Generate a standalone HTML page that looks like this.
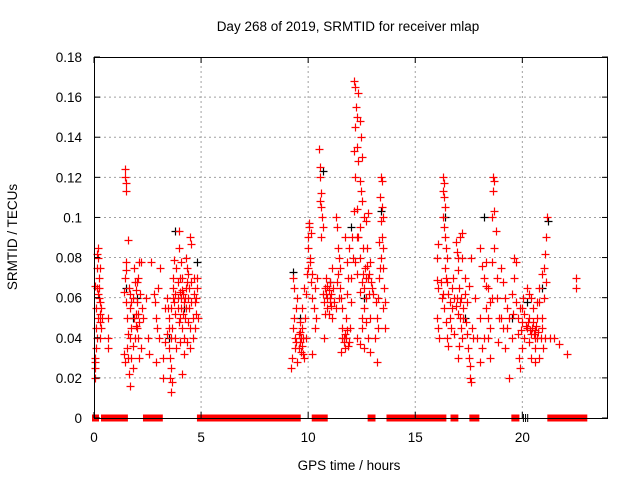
<!DOCTYPE html>
<html><head><meta charset="utf-8"><style>
html,body{margin:0;padding:0;background:#fff}
svg{display:block;font-family:"Liberation Sans",sans-serif}
</style></head><body>
<svg id="chart" width="640" height="480" viewBox="0 0 640 480" xmlns="http://www.w3.org/2000/svg">
<text x="348" y="31" font-size="13.5" text-anchor="middle">Day 268 of 2019, SRMTID for receiver mlap</text>
<text transform="translate(17,237) rotate(-90)" font-size="13.5" text-anchor="middle">SRMTID / TECUs</text>
<text x="349" y="470" font-size="13.5" text-anchor="middle">GPS time / hours</text>
<g id="grid"></g>
<g id="zeros"></g>
<g id="black"></g>
<g id="red"></g>
<g id="axes"></g>
</svg>
<script>
const xTicks=[0,5,10,15,20];
const yTicks=[0,0.02,0.04,0.06,0.08,0.1,0.12,0.14,0.16,0.18];
const yTickLabels=["0","0.02","0.04","0.06","0.08","0.1","0.12","0.14","0.16","0.18"];
const zeroRanges=[[0,0.14],[0.42,1.49],[2.38,2.7],[2.84,3.12],[4.9,9.14],[9.28,9.56],[10.26,10.54],[10.68,10.82],[12.87,13.05],[13.75,15.99],[16.08,16.36],[16.74,16.92],[17.62,17.72],[17.84,17.9],[19.58,19.77],[21.26,22.94]];
const blackZeros=[20.05,20.15,20.25];
const blackPts=[[1.5,0.065],[1.8,0.05],[3.8,0.093],[4.8,0.078],[9.3,0.073],[10.7,0.123],[12.0,0.095],[16.4,0.1],[18.2,0.1],[21.2,0.098],[20.2,0.058],[4.2,0.055],[11.0,0.068],[13.4,0.103],[20.9,0.065],[2.0,0.06],[3.5,0.04],[9.6,0.05],[12.6,0.06],[17.3,0.05],[19.5,0.05]];
const redPts=[
[0.05,0.025],[0.05,0.03],[0.08,0.045],[0.1,0.055],[0.12,0.065],[0.15,0.075],[0.18,0.08],[0.2,0.085],[0.22,0.07],[0.25,0.06],[0.28,0.052],[0.3,0.048],[0.1,0.035],[0.15,0.04],[0.2,0.05],[0.22,0.065],[0.26,0.058],[0.3,0.075],[0.32,0.055],[0.35,0.045],[0.38,0.05],[0.06,0.066],[0.12,0.082],[0.18,0.062],[0.28,0.04],[0.05,0.02],[0.03,0.028],[0.65,0.05],[0.65,0.04],[0.65,0.035],
[1.45,0.124],[1.45,0.12],[1.5,0.117],[1.5,0.113],
[1.4,0.063],[1.45,0.07],[1.5,0.074],[1.5,0.058],[1.55,0.05],[1.55,0.035],[1.6,0.03],[1.6,0.042],[1.65,0.022],[1.7,0.016],[1.6,0.089],[1.65,0.065],[1.7,0.055],[1.75,0.045],[1.8,0.06],[1.85,0.075],[1.9,0.068],[1.95,0.052],[2.0,0.058],[2.05,0.07],[2.1,0.078],[2.05,0.04],[2.1,0.048],[2.15,0.062],[2.2,0.078],[2.2,0.035],[2.25,0.055],[1.75,0.03],[1.8,0.025],[1.9,0.04],[2.0,0.045],[2.1,0.03],[1.4,0.032],[1.45,0.028],[1.5,0.078],[2.3,0.05],[1.95,0.064],[2.0,0.068],
[1.7,0.062],[1.75,0.058],[1.85,0.05],[1.95,0.046],[2.05,0.052],[1.8,0.036],[1.7,0.04],
[2.5,0.04],[2.45,0.06],[2.55,0.032],[2.65,0.078],
[2.8,0.062],[2.85,0.058],[2.9,0.05],[2.95,0.045],[3.0,0.065],[3.05,0.04],[2.9,0.028],[3.2,0.02],[3.2,0.03],[3.3,0.038],[3.1,0.075],
[3.4,0.06],[3.45,0.055],[3.5,0.05],[3.5,0.035],[3.55,0.03],[3.55,0.02],[3.6,0.013],[3.6,0.025],[3.65,0.045],[3.7,0.065],[3.7,0.07],[3.75,0.058],[3.8,0.052],[3.8,0.04],[3.85,0.075],[3.9,0.068],[3.9,0.06],[3.95,0.085],[4.0,0.063],[4.0,0.05],[4.05,0.055],[4.1,0.045],[4.1,0.07],[4.15,0.062],[4.2,0.058],[4.2,0.04],[4.25,0.05],[4.3,0.065],[4.3,0.08],[4.35,0.075],[4.4,0.06],[4.4,0.048],[4.45,0.055],[4.5,0.045],[4.5,0.035],[4.55,0.068],[4.6,0.05],[4.6,0.04],[4.65,0.07],[4.7,0.058],[4.7,0.045],[4.75,0.052],[4.8,0.065],[4.8,0.07],[4.85,0.05],[4.5,0.09],[4.55,0.087],[3.75,0.079],[3.95,0.093],[4.05,0.078],[3.5,0.045],[3.6,0.055],[3.4,0.042],[3.3,0.055],[4.2,0.032],[4.35,0.038],[4.0,0.038],[3.85,0.035],[4.1,0.022],[3.65,0.018],
[3.7,0.06],[3.8,0.062],[3.9,0.055],[4.0,0.07],[4.1,0.064],[4.15,0.052],[4.25,0.06],[4.35,0.068],[4.45,0.065],[4.55,0.058],[4.65,0.062],[4.75,0.06],[3.95,0.048],[4.3,0.055],[3.6,0.04],[4.05,0.06],[4.4,0.072],
[9.2,0.025],[9.25,0.03],[9.3,0.045],[9.35,0.05],[9.4,0.04],[9.4,0.035],[9.45,0.055],[9.35,0.065],[9.3,0.07],[9.5,0.028],[9.5,0.06],[9.55,0.042],[9.6,0.038],[9.6,0.048],[9.65,0.033],[9.7,0.045],[9.7,0.055],[9.75,0.04],[9.8,0.065],[9.8,0.03],[9.85,0.05],[9.9,0.062],[9.95,0.072],[9.9,0.04],
[9.45,0.038],[9.55,0.035],[9.65,0.04],[9.75,0.032],[9.7,0.036],[9.6,0.043],
[10.0,0.09],[10.05,0.095],[10.0,0.085],[10.1,0.08],[10.1,0.078],[10.15,0.068],[10.2,0.06],[10.2,0.072],[10.25,0.055],[10.3,0.065],[10.3,0.045],[10.35,0.05],[10.05,0.097],[10.15,0.092],[10.4,0.07],[10.2,0.032],[10.0,0.075],
[10.5,0.134],[10.55,0.125],[10.55,0.12],[10.6,0.112],[10.6,0.105],[10.65,0.1],[10.7,0.095],[10.55,0.108],[10.6,0.09],[10.7,0.062],[10.75,0.058],[10.8,0.065],[10.85,0.07],[10.9,0.06],[10.9,0.055],[10.95,0.052],[11.0,0.068],[11.05,0.062],[11.1,0.075],[11.1,0.05],[10.8,0.052],[10.75,0.04],[11.15,0.065],[11.2,0.058],
[10.85,0.062],[10.95,0.064],[11.0,0.058],[11.05,0.056],[10.9,0.066],[11.0,0.06],
[11.3,0.1],[11.35,0.095],[11.4,0.085],[11.45,0.08],[11.5,0.075],[11.5,0.065],[11.55,0.06],[11.6,0.055],[11.6,0.045],[11.65,0.04],[11.7,0.035],[11.75,0.05],[11.8,0.062],[11.8,0.078],[11.85,0.07],[11.9,0.038],[11.95,0.045],[12.0,0.058],[12.0,0.07],[11.4,0.072],[11.35,0.068],[11.7,0.09],[11.9,0.085],[12.05,0.09],[12.1,0.08],[11.55,0.033],[11.45,0.06],[11.3,0.055],
[11.65,0.038],[11.75,0.04],[11.85,0.036],[11.6,0.04],[11.7,0.042],[11.8,0.044],
[12.15,0.168],[12.2,0.165],[12.35,0.162],[12.25,0.155],[12.3,0.15],[12.4,0.148],[12.2,0.145],[12.45,0.14],[12.3,0.135],[12.15,0.133],[12.5,0.13],[12.35,0.128],[12.2,0.12],[12.4,0.118],[12.45,0.113],[12.5,0.108],[12.3,0.104],[12.15,0.103],[12.6,0.1],[12.4,0.095],[12.3,0.09],[12.55,0.085],[12.4,0.08],[12.2,0.078],[12.65,0.075],[12.3,0.072],[12.5,0.068],[12.4,0.063],[12.7,0.06],[12.6,0.055],[12.8,0.07],[12.85,0.062],[12.9,0.05],[12.7,0.048],[12.5,0.045],[12.3,0.04],[12.4,0.037],[12.6,0.035],[12.8,0.04],[12.9,0.033],[12.5,0.05],[12.75,0.085],[12.9,0.078],[13.0,0.065],[12.35,0.09],[12.7,0.098],[12.8,0.102],
[12.6,0.065],[12.7,0.07],[12.75,0.076],[12.85,0.072],[12.95,0.068],[12.55,0.072],
[13.2,0.028],[13.1,0.04],[13.2,0.05],[13.25,0.06],[13.3,0.07],[13.35,0.075],[13.4,0.08],[13.3,0.088],[13.45,0.09],[13.4,0.098],[13.5,0.1],[13.45,0.105],[13.4,0.12],[13.45,0.118],[13.35,0.11],[13.5,0.085],[13.55,0.065],[13.6,0.058],[13.6,0.045],[13.5,0.055],[13.25,0.045],[13.15,0.058],[13.05,0.062],[13.5,0.075],
[16.0,0.069],[16.05,0.065],[16.0,0.05],[16.05,0.045],[16.1,0.04],[16.0,0.08],[16.05,0.087],[16.3,0.12],[16.35,0.117],[16.3,0.113],[16.35,0.11],[16.4,0.105],[16.3,0.1],[16.35,0.095],[16.4,0.09],[16.45,0.085],[16.5,0.08],[16.4,0.075],[16.45,0.07],[16.5,0.068],[16.55,0.062],[16.6,0.058],[16.6,0.05],[16.65,0.045],[16.7,0.055],[16.7,0.065],[16.75,0.07],[16.8,0.06],[16.8,0.042],[16.3,0.062],[16.35,0.055],[16.45,0.048],[16.5,0.04],[16.55,0.036],[16.25,0.06],[16.2,0.068],
[16.9,0.088],[16.95,0.083],[17.0,0.08],[17.0,0.074],[17.05,0.065],[17.1,0.058],[17.1,0.05],[17.15,0.045],[17.2,0.04],[17.25,0.055],[17.3,0.062],[17.3,0.07],[17.35,0.048],[17.4,0.042],[17.45,0.035],[17.5,0.03],[17.55,0.026],[17.55,0.02],[17.6,0.018],[17.4,0.058],[17.5,0.066],[17.6,0.08],[17.65,0.045],[17.7,0.04],[17.2,0.092],[17.1,0.09],[17.8,0.06],[17.0,0.03],[17.05,0.036],[17.2,0.08],
[16.9,0.056],[17.0,0.052],[17.15,0.06],[17.25,0.05],[16.95,0.06],
[18.0,0.085],[18.1,0.076],[18.2,0.07],[18.3,0.066],[18.3,0.055],[18.4,0.05],[18.4,0.04],[18.5,0.045],[18.6,0.06],[18.65,0.12],[18.7,0.118],[18.65,0.113],[18.7,0.103],[18.6,0.1],[18.75,0.093],[18.7,0.085],[18.8,0.07],[18.6,0.078],[18.8,0.06],[18.9,0.05],[18.4,0.065],[18.5,0.058],[18.2,0.04],[18.1,0.035],[17.9,0.04],[18.0,0.05],[18.3,0.078],[18.85,0.038],[18.5,0.03],[18.0,0.028],
[19.0,0.075],[19.1,0.068],[19.2,0.06],[19.3,0.055],[19.3,0.045],[19.4,0.05],[19.5,0.062],[19.5,0.04],[19.6,0.08],[19.6,0.07],[19.7,0.058],[19.8,0.05],[19.8,0.042],[19.9,0.055],[20.0,0.048],[20.0,0.035],[20.1,0.04],[20.1,0.052],[20.2,0.065],[20.2,0.045],[20.3,0.05],[20.3,0.038],[20.4,0.06],[20.4,0.042],[20.5,0.048],[20.5,0.055],[20.6,0.044],[20.6,0.035],[20.7,0.05],[20.7,0.04],[20.8,0.065],[20.8,0.058],[20.9,0.045],[20.9,0.072],[21.0,0.06],[21.0,0.075],[21.05,0.082],[21.1,0.09],[21.1,0.068],[21.15,0.1],[20.0,0.055],[19.9,0.025],[19.85,0.03],[19.4,0.02],[19.2,0.035],[19.1,0.045],[20.4,0.03],[20.6,0.028],[20.8,0.03],[19.7,0.078],[20.3,0.062],[20.05,0.06],[19.0,0.05],[19.55,0.052],[20.7,0.058],[20.9,0.05],[21.05,0.04],[20.95,0.035],
[20.6,0.04],[20.65,0.046],[20.75,0.043],[20.85,0.04],[20.55,0.042],[20.45,0.045],[20.35,0.044],[20.25,0.048],[20.15,0.046],[19.95,0.044],
[21.5,0.04],[21.7,0.037],[22.1,0.032],[22.5,0.07],[22.5,0.065],[21.3,0.04]
];
const X0=94,X1=608,Y0=418,Y1=57,XMAX=24,YMAX=0.18;
function sx(h){return X0+(X1-X0)*h/XMAX;}
function sy(v){return Y0-(Y0-Y1)*v/YMAX;}
const NS="http://www.w3.org/2000/svg";
function mk(tag,attrs,parent){const e=document.createElementNS(NS,tag);for(const k in attrs)e.setAttribute(k,attrs[k]);parent.appendChild(e);return e;}
const grid=document.getElementById('grid'),axes=document.getElementById('axes');
yTicks.forEach((t,i)=>{
  const y=sy(t);
  if(i>0&&i<yTicks.length-1){const l=mk('line',{x1:X0,x2:X1,y1:y,y2:y,stroke:'#a0a0a0','stroke-dasharray':'2,3','stroke-width':1},grid);
  
  }
  mk('line',{x1:X0,x2:X0+6,y1:y,y2:y,stroke:'#000'},axes);
  mk('line',{x1:X1-6,x2:X1,y1:y,y2:y,stroke:'#000'},axes);
  const tx=mk('text',{x:82,y:y+5,'font-size':13.5,'text-anchor':'end'},axes);
  tx.textContent=yTickLabels[i];
  
  
});
xTicks.forEach(t=>{
  const x=sx(t);
  if(t>0){const l=mk('line',{x1:x,x2:x,y1:Y0,y2:Y1,stroke:'#a0a0a0','stroke-dasharray':'2,3','stroke-width':1},grid);
  
  }
  mk('line',{x1:x,x2:x,y1:Y0,y2:Y0-6,stroke:'#000'},axes);
  mk('line',{x1:x,x2:x,y1:Y1,y2:Y1+6,stroke:'#000'},axes);
  const tx=mk('text',{x:x,y:442,'font-size':13.5,'text-anchor':'middle'},axes);
  tx.textContent=String(t);
  
  
});
const frame=mk('rect',{x:X0+0.5,y:Y1+0.5,width:X1-X0-1,height:Y0-Y1,fill:'none',stroke:'#000','stroke-width':1},axes);


const zg=document.getElementById('zeros');
zeroRanges.forEach(r=>{
  const a=sx(r[0]),b=sx(r[1]);
  const rc=mk('rect',{x:a-2,y:Y0-3.5,width:Math.max(b-a+4,2),height:7,fill:'#ff0000'},zg);
  
  
});
blackZeros.forEach(h=>{
  const l=mk('line',{x1:sx(h),x2:sx(h),y1:Y0-4,y2:Y0+4,stroke:'#000'},zg);
  
  
});
function plus(g,p,col,name){
  const x=Math.round(sx(p[0]))+0.5,y=Math.round(sy(p[1]))+0.5;
  const e=mk('path',{d:`M${x-4},${y}H${x+4}M${x},${y-4}V${y+4}`,stroke:col,'stroke-width':1.2,fill:'none'},g);
  
  
}
const bg=document.getElementById('black'),rg=document.getElementById('red');
blackPts.forEach(p=>plus(bg,p,'#000','black-point'));
redPts.forEach(p=>plus(rg,p,'#ff0000','red-point'));
</script>
</body></html>
